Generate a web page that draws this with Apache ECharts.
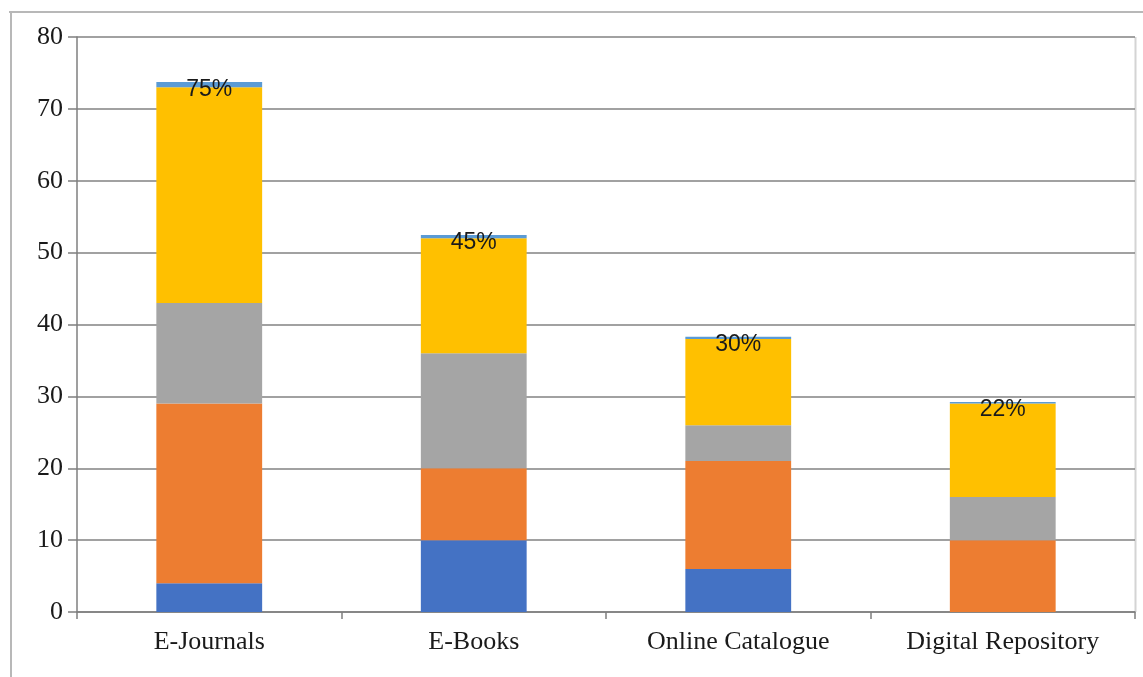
<!DOCTYPE html>
<html>
<head>
<meta charset="utf-8">
<script src="https://cdn.jsdelivr.net/npm/echarts@6/dist/echarts.min.js"></script>
<style>
  html, body { margin: 0; padding: 0; background: #fff; }
  #chart { width: 1143px; height: 677px; }
</style>
</head>
<body>
<div id="chart"></div>
<script>
// Resource categories and stacked segment values
const categories = ['E-Journals', 'E-Books', 'Online Catalogue', 'Digital Repository'];
const seriesBlue = [4, 10, 6, 0];
const seriesOrange = [25, 10, 15, 10];
const seriesGray = [14, 16, 5, 6];
const seriesYellow = [30, 16, 12, 13];
// Usage shares shown above each stack (fraction of 1)
const usageShare = [0.75, 0.45, 0.30, 0.22];
const yTicks = { min: 0, max: 80, interval: 10 };

const serif = 'Liberation Serif, Times New Roman, serif';

function seg(name, data, color) {
  return {
    name: name,
    type: 'bar',
    stack: 'total',
    data: data,
    barWidth: '40%',
    itemStyle: { color: color },
    emphasis: { disabled: true }
  };
}

const chart = echarts.init(document.getElementById('chart'));
chart.setOption({
  animation: false,
  grid: { left: 77, right: 8, top: 37, bottom: 65 },
  xAxis: {
    type: 'category',
    data: categories,
    axisLine: { lineStyle: { color: '#7f7f7f', width: 1.5 } },
    axisTick: { show: true, alignWithLabel: false, length: 7, lineStyle: { color: '#7f7f7f', width: 1.5 } },
    axisLabel: { color: '#1a1a1a', fontFamily: serif, fontSize: 26, margin: 17 }
  },
  yAxis: {
    type: 'value',
    min: yTicks.min,
    max: yTicks.max,
    interval: yTicks.interval,
    axisLine: { show: true, lineStyle: { color: '#7f7f7f', width: 1.5 } },
    axisTick: { show: true, length: 9, lineStyle: { color: '#7f7f7f', width: 1.5 } },
    axisLabel: { color: '#1a1a1a', fontFamily: serif, fontSize: 26, margin: 14, padding: [3, 0, 0, 0] },
    splitLine: { lineStyle: { color: '#828282', width: 1.5 } }
  },
  series: [
    seg('s1', seriesBlue, '#4472C4'),
    seg('s2', seriesOrange, '#ED7D31'),
    seg('s3', seriesGray, '#A5A5A5'),
    seg('s4', seriesYellow, '#FFC000'),
    Object.assign(seg('share', usageShare, '#5B9BD5'), {
      label: {
        show: true,
        position: ['50%', 8],
        align: 'center',
        verticalAlign: 'middle',
        color: '#1a1a1a',
        fontFamily: 'Liberation Sans, Arial, sans-serif',
        fontSize: 23,
        formatter: p => Math.round(p.value * 100) + '%'
      },
      labelLayout: { hideOverlap: false }
    })
  ],
  graphic: [
    { type: 'line', shape: { x1: 9, y1: 12, x2: 1143, y2: 12 }, style: { stroke: '#b8b8b8', lineWidth: 2 } },
    { type: 'line', shape: { x1: 11, y1: 12, x2: 11, y2: 677 }, style: { stroke: '#b8b8b8', lineWidth: 2 } },
    { type: 'line', shape: { x1: 1135.5, y1: 37, x2: 1135.5, y2: 612 }, style: { stroke: '#d4d4d4', lineWidth: 2 } }
  ]
});
</script>
</body>
</html>
